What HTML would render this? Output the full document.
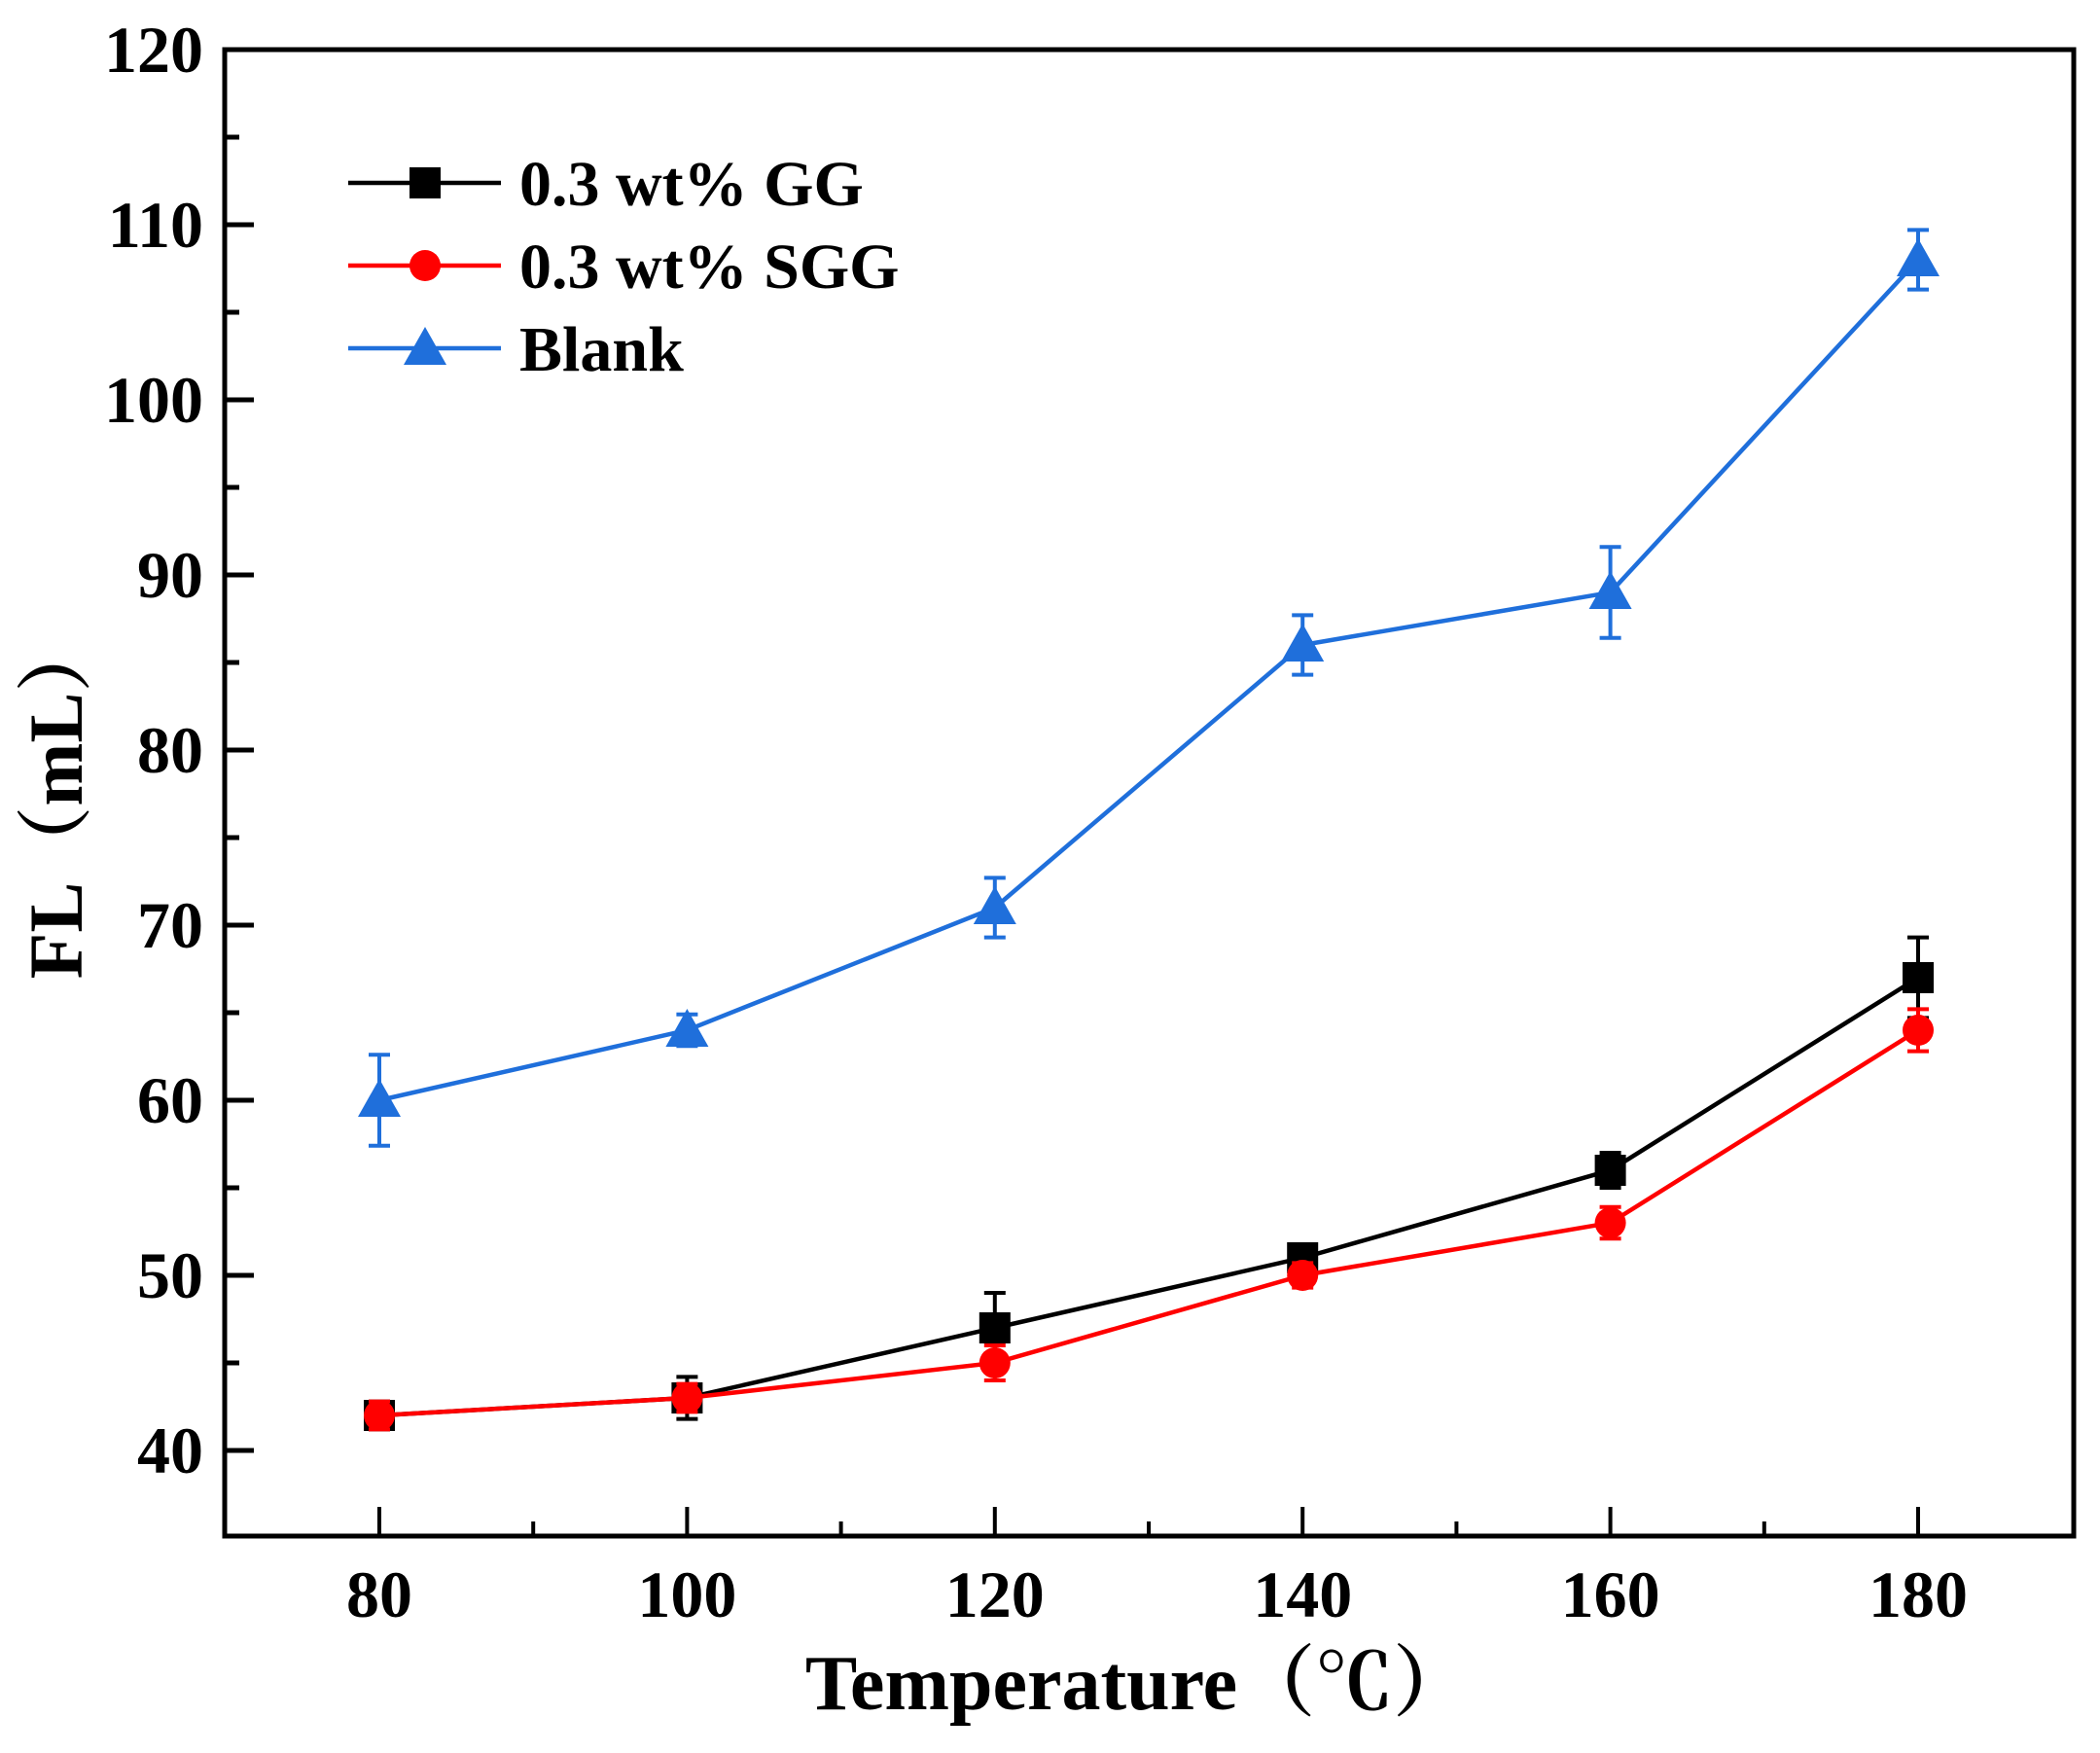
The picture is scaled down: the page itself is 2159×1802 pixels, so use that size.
<!DOCTYPE html>
<html><head><meta charset="utf-8"><style>
html,body{margin:0;padding:0;background:#fff;}
svg{display:block;}
text{font-family:"Liberation Serif","Noto Serif CJK SC",serif;font-weight:bold;fill:#000;}
</style></head><body>
<svg id="chart" width="2159" height="1802" viewBox="0 0 2159 1802" xmlns="http://www.w3.org/2000/svg">
<g id="axes"></g>
<g id="series"></g>
<g id="legend"></g>
<text x="1170" y="1757" font-size="80" text-anchor="middle">Temperature（℃）</text>
<text transform="translate(84,820) rotate(-90)" font-size="78" text-anchor="middle">FL（mL）</text>
</svg>
<script>
const categories=[80,100,120,140,160,180];
const ggValues=[42,43,47,51,56,67];
const ggErrors=[0.8,1.2,2.0,0.5,1.0,2.3];
const sggValues=[42,43,45,50,53,64];
const sggErrors=[0.8,0.8,1.0,0.7,0.9,1.2];
const blankValues=[60,64,71,86,89,108];
const blankErrors=[2.6,0.9,1.7,1.7,2.6,1.7];
const xTicks=[80,100,120,140,160,180];
const yTicks=[40,50,60,70,80,90,100,110,120];
const legendLabels=["0.3 wt% GG","0.3 wt% SGG","Blank"];

const NS="http://www.w3.org/2000/svg";
const L=231,R=2132,T=51,B=1579;
function xs(v){return 390+(v-80)*15.82;}
function ys(v){return 51+(120-v)*18.0;}
function mk(tag,attrs,parent){const e=document.createElementNS(NS,tag);for(const k in attrs)e.setAttribute(k,attrs[k]);parent.appendChild(e);return e;}
const axes=document.getElementById('axes');
const frame=mk('rect',{x:L,y:T,width:R-L,height:B-T,fill:'none',stroke:'#000','stroke-width':5},axes);


yTicks.forEach(v=>{
  const t=mk('line',{x1:L,x2:L+30,y1:ys(v),y2:ys(v),stroke:'#000','stroke-width':5},axes);
  
  
  const lb=mk('text',{x:L-22,y:ys(v)+23,'font-size':68,'text-anchor':'end'},axes);
  lb.textContent=v;
  
  
  if(v<120){
    const m=mk('line',{x1:L,x2:L+15,y1:ys(v+5),y2:ys(v+5),stroke:'#000','stroke-width':5},axes);
    
    
  }
});
xTicks.forEach(v=>{
  const t=mk('line',{x1:xs(v),x2:xs(v),y1:B,y2:B-30,stroke:'#000','stroke-width':4},axes);
  
  
  const lb=mk('text',{x:xs(v),y:1662,'font-size':68,'text-anchor':'middle'},axes);
  lb.textContent=v;
  
  
  if(v<180){
    const m=mk('line',{x1:xs(v+10),x2:xs(v+10),y1:B,y2:B-15,stroke:'#000','stroke-width':4},axes);
    
    
  }
});
function marker(shape,cx,cy,color,parent){
  let m;
  if(shape==='square')m=mk('rect',{x:cx-16,y:cy-16,width:32,height:32,fill:color},parent);
  else if(shape==='circle')m=mk('circle',{cx:cx,cy:cy,r:16,fill:color},parent);
  else m=mk('polygon',{points:`${cx},${cy-22} ${cx+22},${cy+17} ${cx-22},${cy+17}`,fill:color},parent);
  return m;
}
const sdefs=[
 {vals:blankValues,errs:blankErrors,color:'#1f6fdb',shape:'tri',name:'blank'},
 {vals:ggValues,errs:ggErrors,color:'#000',shape:'square',name:'gg'},
 {vals:sggValues,errs:sggErrors,color:'#f00',shape:'circle',name:'sgg'}
];
const sg=document.getElementById('series');
sdefs.forEach(s=>{
  const g=mk('g',{},sg);
  
  
  const pts=categories.map((c,i)=>xs(c)+','+ys(s.vals[i])).join(' ');
  const ln=mk('polyline',{points:pts,fill:'none',stroke:s.color,'stroke-width':4.5},g);
  
  
  categories.forEach((c,i)=>{
    const x=xs(c),y1=ys(s.vals[i]+s.errs[i]),y2=ys(s.vals[i]-s.errs[i]);
    const eb=mk('path',{d:`M${x},${y1}V${y2}M${x-11},${y1}H${x+11}M${x-11},${y2}H${x+11}`,stroke:s.color,'stroke-width':4,fill:'none'},g);
    
    
    const m=marker(s.shape,x,ys(s.vals[i]),s.color,g);
    
    
  });
});
const lg=document.getElementById('legend');
const legendDefs=[['#000','square'],['#f00','circle'],['#1f6fdb','tri']];
legendLabels.forEach((lab,i)=>{
  const y=188+i*85;
  const g=mk('g',{},lg);
  
  
  mk('line',{x1:358,x2:515,y1:y,y2:y,stroke:legendDefs[i][0],'stroke-width':4.5},g);
  marker(legendDefs[i][1],437,y,legendDefs[i][0],g);
  const t=mk('text',{x:534,y:y+23,'font-size':66},g);
  t.textContent=lab;
  
  
});
</script>
</body></html>
